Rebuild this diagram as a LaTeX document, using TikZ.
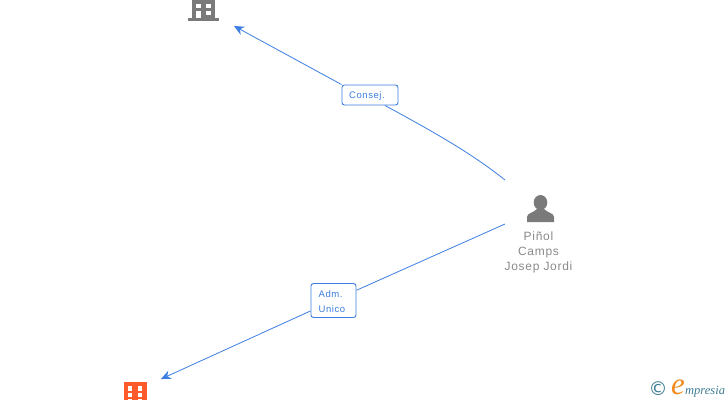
\documentclass[tikz,border=0pt]{standalone}
\usepackage{fontspec}
\setmainfont{Liberation Sans}
\newfontfamily\spacedfont[LetterSpace=6]{Liberation Sans}
\newfontfamily\symbfont{DejaVu Sans}
\newfontfamily\logofont{Liberation Serif}
\usepackage{xcolor}
\usepackage{tikz}
\usetikzlibrary{arrows.meta}
\usetikzlibrary{positioning}
\definecolor{linkblue}{HTML}{3C7FE0}
\definecolor{icongray}{HTML}{7A7A7A}
\definecolor{textgray}{HTML}{8A8A8A}
\definecolor{iconorange}{HTML}{FF5A2C}
\definecolor{logoteal}{HTML}{3D7C94}
\definecolor{logoorange}{HTML}{F28A1E}
\tikzset{
    link/.style={linkblue, line width=0.8pt, -{Stealth[length=10pt,width=9pt]}},
    role/.style={draw=linkblue, line width=0.9pt, fill=white, rounded corners=2.5pt, text=linkblue, font=\spacedfont\fontsize{9.5}{15}\selectfont, align=left, inner sep=0pt},
    person/.style={text=textgray, font=\spacedfont\fontsize{12}{15}\selectfont, align=center, inner sep=0pt}
}
\begin{document}
\begin{tikzpicture}[x=1pt,y=-1pt]
        \useasboundingbox[fill=white] (0,0) rectangle (728,400);
        % building, top
        \fill[icongray] (192,0) rectangle (215,18);
        \fill[icongray] (187.5,18) rectangle (219,21);
        \fill[white] (196,4) rectangle (200.5,8);
        \fill[white] (205.5,4) rectangle (211,8);
        \fill[white] (196,11) rectangle (200.5,18);
        \fill[white] (205.5,11) rectangle (211,15);
        % company, bottom
        \fill[iconorange] (124,382) rectangle (146.5,400);
        \foreach \colx in {127.5,137.5} {
            \foreach \rowy in {386,392.7,399.3} {
                \fill[white] (\colx,\rowy) rectangle ++(4.6,4.6);
            }
        }
        % person
        \fill[icongray] (540.5,202.5) ellipse (6.8 and 7.5);
        \fill[icongray] (527,222) -- (527,217) .. controls (527,213) and (534,212.5) .. (537,209) -- (544,209) .. controls (547,212.5) and (554,213) .. (554,217) -- (554,222) -- cycle;
        \node[person] (pinol) at (538.5,252) {Piñol\\Camps\\Josep Jordi};
        % connectors
        \node[role, minimum width=56pt, minimum height=20pt] (consej) at (370,95) {\rule{0pt}{9pt}Consej.\hspace*{6pt}};
        \node[role, minimum width=45pt, minimum height=34pt] (adm) at (333.5,300.5) {\rule{0pt}{9pt}Adm.\\Unico\hspace*{3pt}};
        \coordinate (topstart) at (505,180);
        \coordinate (topend) at (234,26);
        \coordinate (botstart) at (505,224);
        \coordinate (botend) at (161,379);
        \draw[linkblue, line width=0.8pt] (topstart) .. controls (470,152) and (430,130) .. (consej.-35);
        \draw[link] (consej.north west) -- (topend);
        \draw[linkblue, line width=0.8pt] (botstart) -- (adm);
        \draw[link] (adm) -- (botend);
        % logo
        \node[text=logoteal, font=\symbfont\fontsize{19}{19}\selectfont, inner sep=0pt] (copyr) at (658,389) {©};
        \node[text=logoorange, font=\logofont\itshape\fontsize{31}{31}\selectfont, inner sep=0pt, anchor=base west] (logoe) at (671,394) {e};
        \node[text=logoteal, font=\logofont\itshape\fontsize{12.5}{15}\selectfont, inner sep=0pt, anchor=base west] (logotxt) at (685,394) {mpresia};
    \end{tikzpicture}
\end{document}
